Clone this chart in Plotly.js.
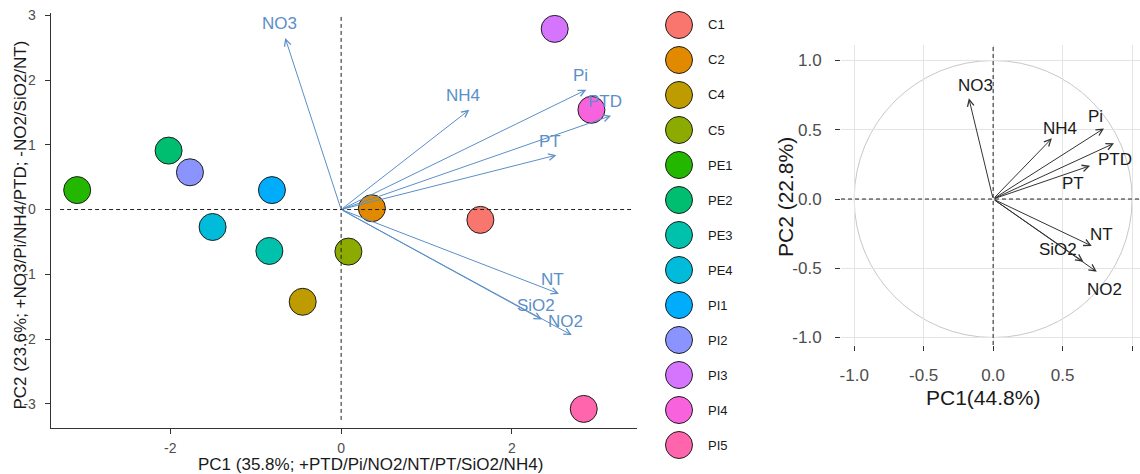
<!DOCTYPE html>
<html>
<head>
<meta charset="utf-8">
<script src="https://cdn.plot.ly/plotly-3.0.1.min.js"></script>
<style>
  html, body { margin: 0; padding: 0; background: #fff; overflow: hidden; }
  #chart { width: 1140px; height: 474px; }
</style>
</head>
<body>
<div id="chart"></div>
<script>
// Sampling sites and their scores on the first two principal components
const sites = ['C1', 'C2', 'C4', 'C5', 'PE1', 'PE2', 'PE3', 'PE4', 'PI1', 'PI2', 'PI3', 'PI4', 'PI5'];
const sitePC1 = [1.63, 0.36, -0.45, 0.085, -3.09, -2.02, -0.84, -1.505, -0.81, -1.77, 2.50, 2.93, 2.84];
const sitePC2 = [-0.16, 0.02, -1.425, -0.65, 0.30, 0.91, -0.64, -0.27, 0.30, 0.575, 2.79, 1.54, -3.08];

// Environmental variable vectors of the biplot
const biplotVars = ['NO3', 'NH4', 'Pi', 'PTD', 'PT', 'NT', 'SiO2', 'NO2'];
const biplotPC1 = [-0.655, 1.50, 2.87, 3.16, 2.52, 2.55, 2.35, 2.70];
const biplotPC2 = [2.65, 1.54, 1.85, 1.45, 0.84, -1.30, -1.70, -1.94];

// Correlation circle of the variables
const corrVars = ['NO3', 'NH4', 'Pi', 'PTD', 'PT', 'NT', 'SiO2', 'NO2'];
const corrPC1 = [-0.175, 0.423, 0.798, 0.870, 0.698, 0.710, 0.650, 0.746];
const corrPC2 = [0.727, 0.438, 0.510, 0.402, 0.240, -0.339, -0.453, -0.525];

// Tick labels
const biplotXTicks = [-2, 0, 2];
const biplotYTicks = [-3, -2, -1, 0, 1, 2, 3];
const circleTicks = [-1, -0.5, 0, 0.5, 1];

// Axis titles
const biplotXTitle = 'PC1 (35.8%; +PTD/Pi/NO2/NT/PT/SiO2/NH4)';
const biplotYTitle = 'PC2 (23.6%; +NO3/Pi/NH4/PTD; -NO2/SiO2/NT)';
const circleXTitle = 'PC1(44.8%)';
const circleYTitle = 'PC2 (22.8%)';

// ---- styling ----
const FONT = 'Liberation Sans, Arial, Helvetica, sans-serif';
const palette = ['#F8766D', '#E18A00', '#BE9C00', '#8CAB00', '#24B700', '#00BE70', '#00C1AB',
                 '#00BBDA', '#00ACFC', '#8B93FF', '#D575FE', '#F962DD', '#FF65AC'];
const vecBlue = '#5b8fc8';
const vecDark = '#333333';
// pixel offsets of the circle-plot labels relative to the arrow tips
const corrLabelShift = {
  NO3: [7, 13], NH4: [8, 10], Pi: [-9, 12], PTD: [1, -16],
  PT: [-17, -18], NT: [10, 11], SiO2: [-25, 12], NO2: [8, -18]
};

const W = 1140, H = 474;
const px = v => v / W;
const py = v => (H - v) / H;

const fmtHyphen = v => (v < 0 ? '-' : '') + Math.abs(v);
const fmtOne = v => (v < 0 ? '-' : '') + Math.abs(v).toFixed(1);

const traces = [];

// site scores
traces.push({
  type: 'scatter', mode: 'markers', xaxis: 'x', yaxis: 'y',
  x: sitePC1, y: sitePC2, text: sites, hoverinfo: 'text',
  marker: { size: 27, color: palette, line: { color: '#1e1e1e', width: 1 } },
  showlegend: false
});

// key of site colours
traces.push({
  type: 'scatter', mode: 'markers', xaxis: 'x3', yaxis: 'y3',
  x: sites.map(() => 0.2417), y: sites.map((s, i) => i), text: sites, hoverinfo: 'text',
  marker: { size: 27, color: palette, line: { color: '#1e1e1e', width: 1 } },
  showlegend: false
});

// keeps the correlation-circle subplot alive
traces.push({
  type: 'scatter', mode: 'markers', xaxis: 'x2', yaxis: 'y2',
  x: corrPC1, y: corrPC2, marker: { size: 1, opacity: 0 }, hoverinfo: 'skip', showlegend: false
});

const annotations = [];

// biplot vectors and labels
biplotVars.forEach((v, i) => {
  annotations.push({
    xref: 'x', yref: 'y', axref: 'x', ayref: 'y',
    x: biplotPC1[i], y: biplotPC2[i], ax: 0, ay: 0, text: '',
    showarrow: true, arrowhead: 5, arrowsize: 1.3, arrowwidth: 1, arrowcolor: vecBlue, standoff: 0
  });
  annotations.push({
    xref: 'x', yref: 'y', x: biplotPC1[i], y: biplotPC2[i], text: v, showarrow: false,
    xshift: -6, yshift: 14, font: { family: FONT, size: 17, color: vecBlue }
  });
});

// correlation-circle vectors and labels
corrVars.forEach((v, i) => {
  annotations.push({
    xref: 'x2', yref: 'y2', axref: 'x2', ayref: 'y2',
    x: corrPC1[i], y: corrPC2[i], ax: 0, ay: 0, text: '',
    showarrow: true, arrowhead: 5, arrowsize: 1.3, arrowwidth: 1, arrowcolor: vecDark, standoff: 0
  });
  const s = corrLabelShift[v] || [0, 0];
  annotations.push({
    xref: 'x2', yref: 'y2', x: corrPC1[i], y: corrPC2[i], text: v, showarrow: false,
    xshift: s[0], yshift: s[1], font: { family: FONT, size: 17, color: '#1a1a1a' }
  });
});

// key labels
sites.forEach((s, i) => {
  annotations.push({
    xref: 'x3', yref: 'y3', x: 0.4667, y: i, text: s, showarrow: false,
    xanchor: 'left', yanchor: 'middle', font: { family: FONT, size: 13, color: '#1a1a1a' }
  });
});

// axis titles
annotations.push({
  xref: 'paper', yref: 'paper', x: px(370), y: py(464), text: biplotXTitle, showarrow: false,
  xanchor: 'center', yanchor: 'middle', font: { family: FONT, size: 17, color: '#1a1a1a' }
});
annotations.push({
  xref: 'paper', yref: 'paper', x: px(19.5), y: py(225), text: biplotYTitle, showarrow: false,
  textangle: -90, xanchor: 'center', yanchor: 'middle', font: { family: FONT, size: 17, color: '#1a1a1a' }
});
annotations.push({
  xref: 'paper', yref: 'paper', x: px(983), y: py(397), text: circleXTitle, showarrow: false,
  xanchor: 'center', yanchor: 'middle', font: { family: FONT, size: 21, color: '#1a1a1a' }
});
annotations.push({
  xref: 'paper', yref: 'paper', x: px(785), y: py(197), text: circleYTitle, showarrow: false,
  textangle: -90, xanchor: 'center', yanchor: 'middle', font: { family: FONT, size: 21, color: '#1a1a1a' }
});

const dashed = { color: '#222', width: 1, dash: '4px,3px' };
const shapes = [
  // biplot reference lines
  { type: 'line', xref: 'x', yref: 'y', x0: -3.29, x1: 3.40, y0: 0, y1: 0, line: dashed, layer: 'above' },
  { type: 'line', xref: 'x', yref: 'y', x0: 0, x1: 0, y0: -3.25, y1: 3.02, line: dashed, layer: 'above' },
  // unit circle
  { type: 'circle', xref: 'x2', yref: 'y2', x0: -1, x1: 1, y0: -1, y1: 1,
    line: { color: '#c8c8c8', width: 1 }, layer: 'below' },
  // circle-plot reference lines
  { type: 'line', xref: 'x2', yref: 'y2', x0: -1.095, x1: 1.057, y0: 0, y1: 0, line: dashed, layer: 'above' },
  { type: 'line', xref: 'x2', yref: 'y2', x0: 0, x1: 0, y0: -1.054, y1: 1.112, line: dashed, layer: 'above' }
];

const layout = {
  width: W, height: H,
  margin: { l: 0, r: 0, t: 0, b: 0, pad: 0 },
  paper_bgcolor: '#ffffff', plot_bgcolor: '#ffffff',
  font: { family: FONT },
  showlegend: false,
  xaxis: {
    domain: [px(50.7), px(636.7)], range: [-3.40, 3.46], anchor: 'y',
    tickvals: biplotXTicks, ticktext: biplotXTicks.map(fmtHyphen),
    ticks: 'outside', ticklen: 5, tickwidth: 1, tickcolor: '#333',
    showline: true, linecolor: '#333', linewidth: 1, mirror: false,
    showgrid: false, zeroline: false, ticklabelstandoff: 2,
    tickfont: { family: FONT, size: 14, color: '#4d4d4d' }
  },
  yaxis: {
    domain: [py(427.7), py(12.7)], range: [-3.37, 3.04], anchor: 'x',
    tickvals: biplotYTicks, ticktext: biplotYTicks.map(fmtHyphen),
    ticks: 'outside', ticklen: 5, tickwidth: 1, tickcolor: '#333',
    showline: true, linecolor: '#333', linewidth: 1,
    showgrid: false, zeroline: false, ticklabelstandoff: 6,
    tickfont: { family: FONT, size: 14, color: '#4d4d4d' }
  },
  xaxis2: {
    domain: [px(841), 1], range: [-1.095, 1.057], anchor: 'y2',
    tickvals: circleTicks, ticktext: circleTicks.map(fmtOne),
    ticks: 'outside', ticklen: 5, tickwidth: 1, tickcolor: '#333',
    showline: false, showgrid: true, gridcolor: '#e4e4e4', gridwidth: 1, zeroline: false,
    ticklabelstandoff: 10,
    tickfont: { family: FONT, size: 17, color: '#4d4d4d' }
  },
  yaxis2: {
    domain: [py(345), py(45)], range: [-1.054, 1.112], anchor: 'x2',
    tickvals: circleTicks, ticktext: circleTicks.map(fmtOne),
    ticks: 'outside', ticklen: 5, tickwidth: 1, tickcolor: '#333',
    showline: false, showgrid: true, gridcolor: '#e4e4e4', gridwidth: 1, zeroline: false,
    ticklabelstandoff: 10,
    tickfont: { family: FONT, size: 17, color: '#4d4d4d' }
  },
  xaxis3: {
    domain: [px(650), px(770)], range: [0, 1], anchor: 'y3', visible: false, fixedrange: true
  },
  yaxis3: {
    domain: [py(462.5), py(7.5)], range: [12.5, -0.5], anchor: 'x3', visible: false, fixedrange: true
  },
  annotations: annotations,
  shapes: shapes
};

Plotly.newPlot('chart', traces, layout, { displayModeBar: false, staticPlot: true });
</script>
</body>
</html>
